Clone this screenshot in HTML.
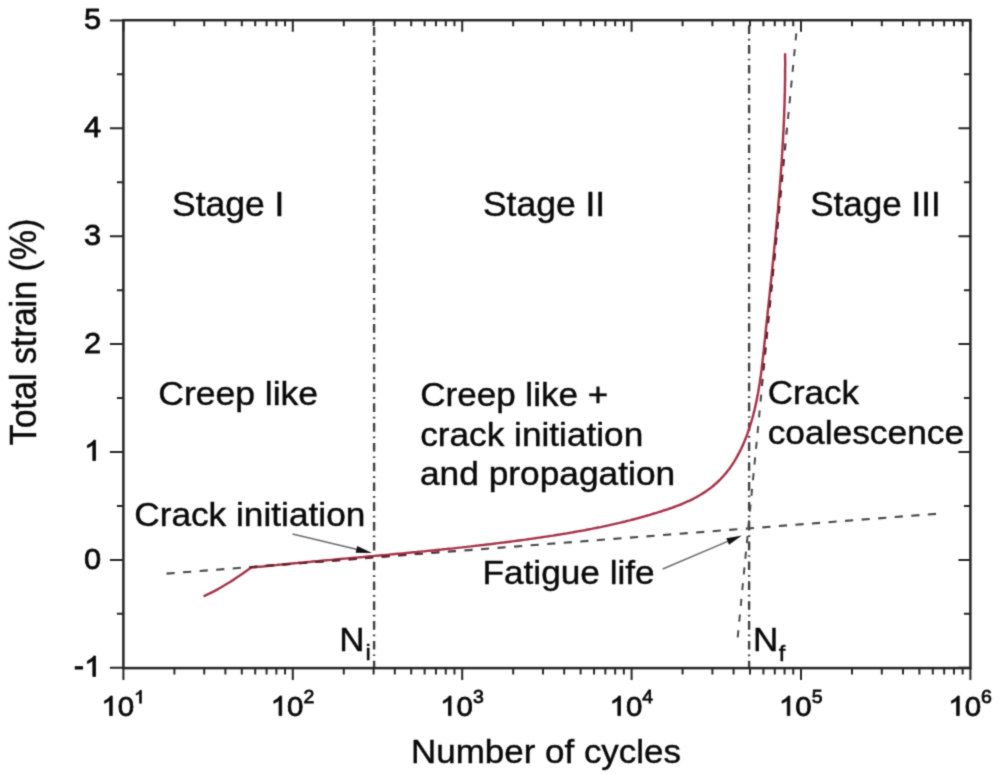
<!DOCTYPE html>
<html><head><meta charset="utf-8"><style>
html,body{margin:0;padding:0;background:#fff;}
svg{display:block;}
text{font-family:"Liberation Sans",sans-serif;fill:#0a0a0a;stroke:#0a0a0a;stroke-width:0.45px;}
text.tk{stroke-width:0.8px;}
</style></head><body>
<svg width="1000" height="775" viewBox="0 0 1000 775">
<defs><path id="one" d="M763 0H583V1100Q518 1040 412 980Q306 920 222 888V1058Q373 1128 486 1228Q599 1328 646 1409H763Z" fill="#0a0a0a" stroke="#0a0a0a" stroke-width="0.8" vector-effect="non-scaling-stroke"/>
<filter id="bl" x="0" y="0" width="1000" height="775" filterUnits="userSpaceOnUse" color-interpolation-filters="sRGB"><feConvolveMatrix order="3" kernelMatrix="0.02768 0.11101 0.02768 0.11101 0.44521 0.11101 0.02768 0.11101 0.02768" edgeMode="duplicate" preserveAlpha="false"/></filter></defs>
<rect width="1000" height="775" fill="#fff"/>
<g filter="url(#bl)">
<line x1="374.1" y1="668.10" x2="374.1" y2="21.20" stroke="#3f3f3f" stroke-width="2.4" stroke-dasharray="8.6 4.6 1.7 4.9" stroke-dashoffset="1.2"/>
<line x1="749.1" y1="668.10" x2="749.1" y2="21.20" stroke="#3f3f3f" stroke-width="2.4" stroke-dasharray="8.63 4.61 1.71 4.91" stroke-dashoffset="1.3"/>
<path id="rc" d="M204.5 595.9 L208.7 593.9 L212.9 591.8 L217.1 589.6 L221.2 587.2 L225.4 584.8 L229.6 582.3 L233.8 579.6 L237.9 576.8 L242.1 574.0 L246.3 571.0 L250.5 567.9 L251.0 567.7 L253.3 567.4 L255.6 567.2 L257.8 566.9 L260.1 566.7 L262.4 566.5 L264.7 566.2 L267.0 566.0 L269.3 565.8 L271.6 565.5 L273.8 565.3 L276.1 565.1 L278.4 564.8 L280.7 564.6 L283.0 564.4 L285.3 564.2 L287.6 563.9 L289.9 563.7 L292.2 563.5 L294.4 563.3 L296.7 563.1 L299.0 562.8 L301.3 562.6 L303.6 562.4 L305.9 562.2 L308.2 562.0 L310.5 561.8 L312.8 561.5 L315.1 561.3 L317.4 561.1 L319.7 560.9 L321.9 560.7 L324.2 560.5 L326.5 560.3 L328.8 560.1 L331.1 559.9 L333.4 559.7 L335.7 559.4 L338.0 559.2 L340.3 559.0 L342.6 558.8 L344.9 558.6 L347.2 558.4 L349.5 558.2 L351.8 558.0 L354.1 557.8 L356.4 557.6 L358.6 557.4 L360.9 557.2 L363.2 557.0 L365.5 556.7 L367.8 556.5 L370.1 556.3 L372.4 556.1 L374.7 555.9 L377.0 555.7 L379.3 555.5 L381.6 555.3 L383.9 555.1 L386.2 554.9 L388.5 554.7 L390.8 554.4 L393.1 554.2 L395.4 554.0 L397.7 553.8 L399.9 553.6 L402.2 553.4 L404.5 553.2 L406.8 552.9 L409.1 552.7 L411.4 552.5 L413.7 552.3 L416.0 552.1 L418.3 551.8 L420.6 551.6 L422.9 551.4 L425.2 551.2 L427.5 550.9 L429.8 550.7 L432.0 550.5 L434.3 550.3 L436.6 550.0 L438.9 549.8 L441.2 549.6 L443.5 549.3 L445.8 549.1 L448.1 548.8 L450.4 548.6 L452.7 548.4 L455.0 548.1 L457.2 547.9 L459.5 547.6 L461.8 547.4 L464.1 547.1 L466.4 546.9 L468.7 546.6 L471.0 546.4 L473.3 546.1 L475.5 545.8 L477.8 545.6 L480.1 545.3 L482.4 545.1 L484.7 544.8 L487.0 544.5 L489.3 544.2 L491.5 544.0 L493.8 543.7 L496.1 543.4 L498.4 543.1 L500.7 542.8 L503.0 542.6 L505.2 542.3 L507.5 542.0 L509.8 541.7 L512.1 541.4 L514.4 541.1 L516.6 540.8 L518.9 540.5 L521.2 540.2 L523.5 539.9 L525.7 539.6 L528.0 539.2 L530.3 538.9 L532.6 538.6 L534.8 538.3 L537.1 537.9 L539.4 537.6 L541.7 537.3 L543.9 536.9 L546.2 536.6 L548.5 536.3 L550.7 535.9 L553.0 535.6 L555.3 535.2 L557.6 534.8 L559.8 534.5 L562.1 534.1 L564.4 533.7 L566.6 533.4 L568.9 533.0 L571.1 532.6 L573.4 532.2 L575.7 531.8 L577.9 531.4 L580.2 531.0 L582.5 530.6 L584.7 530.2 L587.0 529.7 L589.2 529.3 L591.5 528.9 L593.7 528.4 L596.0 528.0 L598.2 527.5 L600.5 527.1 L602.8 526.6 L605.0 526.1 L607.3 525.6 L609.5 525.1 L611.7 524.6 L614.0 524.1 L616.2 523.6 L618.5 523.1 L620.7 522.6 L623.0 522.0 L625.2 521.5 L627.4 520.9 L629.7 520.4 L631.9 519.8 L634.2 519.2 L636.4 518.6 L638.6 518.0 L640.9 517.4 L643.1 516.8 L645.3 516.1 L647.5 515.5 L649.8 514.9 L652.0 514.2 L654.2 513.5 L656.4 512.9 L658.7 512.2 L660.9 511.5 L663.1 510.7 L665.3 510.0 L667.5 509.3 L669.7 508.5 L671.9 507.8 L674.1 507.0 L676.3 506.2 L678.5 505.3 L680.6 504.5 L682.8 503.6 L684.9 502.7 L687.0 501.7 L689.1 500.8 L691.2 499.8 L693.3 498.8 L695.3 497.7 L697.3 496.6 L699.3 495.5 L701.3 494.3 L703.2 493.1 L705.1 491.9 L707.0 490.6 L708.8 489.2 L710.7 487.9 L712.5 486.5 L714.2 485.0 L715.9 483.5 L717.6 482.0 L719.2 480.5 L720.8 478.9 L722.4 477.2 L723.9 475.5 L725.4 473.8 L726.8 472.1 L728.2 470.3 L729.6 468.5 L730.9 466.6 L732.2 464.7 L733.4 462.8 L734.6 460.9 L735.8 458.9 L736.9 456.9 L738.0 454.9 L739.1 452.9 L740.1 450.8 L741.2 448.8 L742.1 446.7 L743.1 444.6 L744.0 442.4 L744.9 440.3 L745.7 438.2 L746.6 436.0 L747.4 433.8 L748.1 431.7 L748.9 429.5 L749.6 427.3 L750.3 425.1 L751.0 422.9 L751.6 420.7 L752.3 418.5 L752.9 416.3 L753.5 414.1 L754.0 411.8 L754.6 409.6 L755.1 407.4 L755.6 405.1 L756.1 402.9 L756.6 400.6 L757.0 398.4 L757.4 396.1 L757.9 393.9 L758.3 391.6 L758.7 389.3 L759.0 387.1 L759.4 384.8 L759.8 382.5 L760.1 380.2 L760.4 378.0 L760.8 375.7 L761.1 373.4 L761.4 371.1 L761.7 368.8 L761.9 366.5 L762.2 364.2 L762.5 361.9 L762.7 359.6 L763.0 357.3 L763.3 355.0 L763.5 352.7 L763.8 350.4 L764.0 348.1 L764.2 345.8 L764.5 343.5 L764.7 341.2 L765.0 338.9 L765.2 336.6 L765.4 334.3 L765.7 332.0 L765.9 329.7 L766.1 327.4 L766.4 325.1 L766.6 322.8 L766.9 320.5 L767.1 318.2 L767.4 315.9 L767.6 313.6 L767.8 311.4 L768.1 309.1 L768.3 306.8 L768.6 304.5 L768.8 302.2 L769.0 299.9 L769.3 297.6 L769.5 295.3 L769.8 293.0 L770.0 290.7 L770.2 288.4 L770.5 286.1 L770.7 283.9 L771.0 281.6 L771.2 279.3 L771.4 277.0 L771.7 274.7 L771.9 272.4 L772.1 270.1 L772.4 267.8 L772.6 265.5 L772.8 263.3 L773.1 261.0 L773.3 258.7 L773.5 256.4 L773.8 254.1 L774.0 251.8 L774.2 249.5 L774.4 247.2 L774.7 245.0 L774.9 242.7 L775.1 240.4 L775.3 238.1 L775.5 235.8 L775.8 233.5 L776.0 231.2 L776.2 229.0 L776.4 226.7 L776.6 224.4 L776.8 222.1 L777.0 219.8 L777.2 217.5 L777.4 215.2 L777.7 212.9 L777.9 210.7 L778.1 208.4 L778.2 206.1 L778.4 203.8 L778.6 201.5 L778.8 199.2 L779.0 196.9 L779.2 194.6 L779.4 192.4 L779.6 190.1 L779.8 187.8 L779.9 185.5 L780.1 183.2 L780.3 180.9 L780.5 178.6 L780.6 176.3 L780.8 174.0 L781.0 171.8 L781.1 169.5 L781.3 167.2 L781.4 164.9 L781.6 162.6 L781.8 160.3 L781.9 158.0 L782.0 155.7 L782.2 153.4 L782.3 151.1 L782.5 148.8 L782.6 146.5 L782.7 144.2 L782.9 141.9 L783.0 139.6 L783.1 137.4 L783.2 135.1 L783.3 132.8 L783.5 130.5 L783.6 128.2 L783.7 125.9 L783.8 123.6 L783.9 121.3 L784.0 119.0 L784.1 116.7 L784.2 114.4 L784.2 112.1 L784.3 109.8 L784.4 107.4 L784.5 105.1 L784.6 102.8 L784.6 100.5 L784.7 98.2 L784.7 95.9 L784.8 93.6 L784.9 91.3 L784.9 89.0 L784.9 86.7 L785.0 84.4 L785.0 82.1 L785.1 79.7 L785.1 77.4 L785.1 75.1 L785.1 72.8 L785.1 70.5 L785.1 68.2 L785.2 65.9 L785.2 63.5 L785.2 61.2 L785.1 58.9 L785.1 56.6 L785.1 54.3" fill="none" stroke="#a5334a" stroke-width="2.45" stroke-linejoin="round" stroke-linecap="round"/>
<mask id="rm" maskUnits="userSpaceOnUse" x="0" y="0" width="1000" height="775"><path d="M204.5 595.9 L208.7 593.9 L212.9 591.8 L217.1 589.6 L221.2 587.2 L225.4 584.8 L229.6 582.3 L233.8 579.6 L237.9 576.8 L242.1 574.0 L246.3 571.0 L250.5 567.9 L251.0 567.7 L253.3 567.4 L255.6 567.2 L257.8 566.9 L260.1 566.7 L262.4 566.5 L264.7 566.2 L267.0 566.0 L269.3 565.8 L271.6 565.5 L273.8 565.3 L276.1 565.1 L278.4 564.8 L280.7 564.6 L283.0 564.4 L285.3 564.2 L287.6 563.9 L289.9 563.7 L292.2 563.5 L294.4 563.3 L296.7 563.1 L299.0 562.8 L301.3 562.6 L303.6 562.4 L305.9 562.2 L308.2 562.0 L310.5 561.8 L312.8 561.5 L315.1 561.3 L317.4 561.1 L319.7 560.9 L321.9 560.7 L324.2 560.5 L326.5 560.3 L328.8 560.1 L331.1 559.9 L333.4 559.7 L335.7 559.4 L338.0 559.2 L340.3 559.0 L342.6 558.8 L344.9 558.6 L347.2 558.4 L349.5 558.2 L351.8 558.0 L354.1 557.8 L356.4 557.6 L358.6 557.4 L360.9 557.2 L363.2 557.0 L365.5 556.7 L367.8 556.5 L370.1 556.3 L372.4 556.1 L374.7 555.9 L377.0 555.7 L379.3 555.5 L381.6 555.3 L383.9 555.1 L386.2 554.9 L388.5 554.7 L390.8 554.4 L393.1 554.2 L395.4 554.0 L397.7 553.8 L399.9 553.6 L402.2 553.4 L404.5 553.2 L406.8 552.9 L409.1 552.7 L411.4 552.5 L413.7 552.3 L416.0 552.1 L418.3 551.8 L420.6 551.6 L422.9 551.4 L425.2 551.2 L427.5 550.9 L429.8 550.7 L432.0 550.5 L434.3 550.3 L436.6 550.0 L438.9 549.8 L441.2 549.6 L443.5 549.3 L445.8 549.1 L448.1 548.8 L450.4 548.6 L452.7 548.4 L455.0 548.1 L457.2 547.9 L459.5 547.6 L461.8 547.4 L464.1 547.1 L466.4 546.9 L468.7 546.6 L471.0 546.4 L473.3 546.1 L475.5 545.8 L477.8 545.6 L480.1 545.3 L482.4 545.1 L484.7 544.8 L487.0 544.5 L489.3 544.2 L491.5 544.0 L493.8 543.7 L496.1 543.4 L498.4 543.1 L500.7 542.8 L503.0 542.6 L505.2 542.3 L507.5 542.0 L509.8 541.7 L512.1 541.4 L514.4 541.1 L516.6 540.8 L518.9 540.5 L521.2 540.2 L523.5 539.9 L525.7 539.6 L528.0 539.2 L530.3 538.9 L532.6 538.6 L534.8 538.3 L537.1 537.9 L539.4 537.6 L541.7 537.3 L543.9 536.9 L546.2 536.6 L548.5 536.3 L550.7 535.9 L553.0 535.6 L555.3 535.2 L557.6 534.8 L559.8 534.5 L562.1 534.1 L564.4 533.7 L566.6 533.4 L568.9 533.0 L571.1 532.6 L573.4 532.2 L575.7 531.8 L577.9 531.4 L580.2 531.0 L582.5 530.6 L584.7 530.2 L587.0 529.7 L589.2 529.3 L591.5 528.9 L593.7 528.4 L596.0 528.0 L598.2 527.5 L600.5 527.1 L602.8 526.6 L605.0 526.1 L607.3 525.6 L609.5 525.1 L611.7 524.6 L614.0 524.1 L616.2 523.6 L618.5 523.1 L620.7 522.6 L623.0 522.0 L625.2 521.5 L627.4 520.9 L629.7 520.4 L631.9 519.8 L634.2 519.2 L636.4 518.6 L638.6 518.0 L640.9 517.4 L643.1 516.8 L645.3 516.1 L647.5 515.5 L649.8 514.9 L652.0 514.2 L654.2 513.5 L656.4 512.9 L658.7 512.2 L660.9 511.5 L663.1 510.7 L665.3 510.0 L667.5 509.3 L669.7 508.5 L671.9 507.8 L674.1 507.0 L676.3 506.2 L678.5 505.3 L680.6 504.5 L682.8 503.6 L684.9 502.7 L687.0 501.7 L689.1 500.8 L691.2 499.8 L693.3 498.8 L695.3 497.7 L697.3 496.6 L699.3 495.5 L701.3 494.3 L703.2 493.1 L705.1 491.9 L707.0 490.6 L708.8 489.2 L710.7 487.9 L712.5 486.5 L714.2 485.0 L715.9 483.5 L717.6 482.0 L719.2 480.5 L720.8 478.9 L722.4 477.2 L723.9 475.5 L725.4 473.8 L726.8 472.1 L728.2 470.3 L729.6 468.5 L730.9 466.6 L732.2 464.7 L733.4 462.8 L734.6 460.9 L735.8 458.9 L736.9 456.9 L738.0 454.9 L739.1 452.9 L740.1 450.8 L741.2 448.8 L742.1 446.7 L743.1 444.6 L744.0 442.4 L744.9 440.3 L745.7 438.2 L746.6 436.0 L747.4 433.8 L748.1 431.7 L748.9 429.5 L749.6 427.3 L750.3 425.1 L751.0 422.9 L751.6 420.7 L752.3 418.5 L752.9 416.3 L753.5 414.1 L754.0 411.8 L754.6 409.6 L755.1 407.4 L755.6 405.1 L756.1 402.9 L756.6 400.6 L757.0 398.4 L757.4 396.1 L757.9 393.9 L758.3 391.6 L758.7 389.3 L759.0 387.1 L759.4 384.8 L759.8 382.5 L760.1 380.2 L760.4 378.0 L760.8 375.7 L761.1 373.4 L761.4 371.1 L761.7 368.8 L761.9 366.5 L762.2 364.2 L762.5 361.9 L762.7 359.6 L763.0 357.3 L763.3 355.0 L763.5 352.7 L763.8 350.4 L764.0 348.1 L764.2 345.8 L764.5 343.5 L764.7 341.2 L765.0 338.9 L765.2 336.6 L765.4 334.3 L765.7 332.0 L765.9 329.7 L766.1 327.4 L766.4 325.1 L766.6 322.8 L766.9 320.5 L767.1 318.2 L767.4 315.9 L767.6 313.6 L767.8 311.4 L768.1 309.1 L768.3 306.8 L768.6 304.5 L768.8 302.2 L769.0 299.9 L769.3 297.6 L769.5 295.3 L769.8 293.0 L770.0 290.7 L770.2 288.4 L770.5 286.1 L770.7 283.9 L771.0 281.6 L771.2 279.3 L771.4 277.0 L771.7 274.7 L771.9 272.4 L772.1 270.1 L772.4 267.8 L772.6 265.5 L772.8 263.3 L773.1 261.0 L773.3 258.7 L773.5 256.4 L773.8 254.1 L774.0 251.8 L774.2 249.5 L774.4 247.2 L774.7 245.0 L774.9 242.7 L775.1 240.4 L775.3 238.1 L775.5 235.8 L775.8 233.5 L776.0 231.2 L776.2 229.0 L776.4 226.7 L776.6 224.4 L776.8 222.1 L777.0 219.8 L777.2 217.5 L777.4 215.2 L777.7 212.9 L777.9 210.7 L778.1 208.4 L778.2 206.1 L778.4 203.8 L778.6 201.5 L778.8 199.2 L779.0 196.9 L779.2 194.6 L779.4 192.4 L779.6 190.1 L779.8 187.8 L779.9 185.5 L780.1 183.2 L780.3 180.9 L780.5 178.6 L780.6 176.3 L780.8 174.0 L781.0 171.8 L781.1 169.5 L781.3 167.2 L781.4 164.9 L781.6 162.6 L781.8 160.3 L781.9 158.0 L782.0 155.7 L782.2 153.4 L782.3 151.1 L782.5 148.8 L782.6 146.5 L782.7 144.2 L782.9 141.9 L783.0 139.6 L783.1 137.4 L783.2 135.1 L783.3 132.8 L783.5 130.5 L783.6 128.2 L783.7 125.9 L783.8 123.6 L783.9 121.3 L784.0 119.0 L784.1 116.7 L784.2 114.4 L784.2 112.1 L784.3 109.8 L784.4 107.4 L784.5 105.1 L784.6 102.8 L784.6 100.5 L784.7 98.2 L784.7 95.9 L784.8 93.6 L784.9 91.3 L784.9 89.0 L784.9 86.7 L785.0 84.4 L785.0 82.1 L785.1 79.7 L785.1 77.4 L785.1 75.1 L785.1 72.8 L785.1 70.5 L785.1 68.2 L785.2 65.9 L785.2 63.5 L785.2 61.2 L785.1 58.9 L785.1 56.6 L785.1 54.3" fill="none" stroke="#fff" stroke-width="5" stroke-linejoin="round" stroke-linecap="round"/></mask>
<line x1="166.5" y1="573.6" x2="936.6" y2="513.8" stroke-width="2.1" stroke-dasharray="8.2 8.4" stroke="#474747"/>
<line x1="737.7" y1="637.3" x2="796.3" y2="33.2" stroke-width="2" stroke-dasharray="7.1 8.68" stroke="#4a4a4a"/>
<g mask="url(#rm)"><line x1="166.5" y1="573.6" x2="936.6" y2="513.8" stroke-width="2.1" stroke-dasharray="8.2 8.4" stroke="#6e1c2a"/><line x1="737.7" y1="637.3" x2="796.3" y2="33.2" stroke-width="2" stroke-dasharray="7.1 8.68" stroke="#6e1c2a"/></g>
<line x1="292.5" y1="534.1" x2="358.38" y2="549.76" stroke="#6a6a6a" stroke-width="1.5"/><path d="M372.00 553.00L355.62 552.70L357.24 545.89Z" fill="#111"/>
<line x1="662.7" y1="569" x2="729.47" y2="540.67" stroke="#6a6a6a" stroke-width="1.5"/><path d="M741.90 535.40L729.00 544.68L726.26 538.23Z" fill="#111"/>
<rect x="123.40" y="20.20" width="847.00" height="647.90" fill="none" stroke="#262626" stroke-width="2.5"/>
<path d="M123.40 668.10V679.90M123.40 20.20V31.70M174.39 668.10V674.40M174.39 20.20V26.20M204.22 668.10V674.40M204.22 20.20V26.20M225.39 668.10V674.40M225.39 20.20V26.20M241.81 668.10V674.40M241.81 20.20V26.20M255.22 668.10V674.40M255.22 20.20V26.20M266.56 668.10V674.40M266.56 20.20V26.20M276.38 668.10V674.40M276.38 20.20V26.20M285.05 668.10V674.40M285.05 20.20V26.20M292.80 668.10V679.90M292.80 20.20V31.70M343.79 668.10V674.40M343.79 20.20V26.20M373.62 668.10V674.40M373.62 20.20V26.20M394.79 668.10V674.40M394.79 20.20V26.20M411.21 668.10V674.40M411.21 20.20V26.20M424.62 668.10V674.40M424.62 20.20V26.20M435.96 668.10V674.40M435.96 20.20V26.20M445.78 668.10V674.40M445.78 20.20V26.20M454.45 668.10V674.40M454.45 20.20V26.20M462.20 668.10V679.90M462.20 20.20V31.70M513.19 668.10V674.40M513.19 20.20V26.20M543.02 668.10V674.40M543.02 20.20V26.20M564.19 668.10V674.40M564.19 20.20V26.20M580.61 668.10V674.40M580.61 20.20V26.20M594.02 668.10V674.40M594.02 20.20V26.20M605.36 668.10V674.40M605.36 20.20V26.20M615.18 668.10V674.40M615.18 20.20V26.20M623.85 668.10V674.40M623.85 20.20V26.20M631.60 668.10V679.90M631.60 20.20V31.70M682.59 668.10V674.40M682.59 20.20V26.20M712.42 668.10V674.40M712.42 20.20V26.20M733.59 668.10V674.40M733.59 20.20V26.20M750.01 668.10V674.40M750.01 20.20V26.20M763.42 668.10V674.40M763.42 20.20V26.20M774.76 668.10V674.40M774.76 20.20V26.20M784.58 668.10V674.40M784.58 20.20V26.20M793.25 668.10V674.40M793.25 20.20V26.20M801.00 668.10V679.90M801.00 20.20V31.70M851.99 668.10V674.40M851.99 20.20V26.20M881.82 668.10V674.40M881.82 20.20V26.20M902.99 668.10V674.40M902.99 20.20V26.20M919.41 668.10V674.40M919.41 20.20V26.20M932.82 668.10V674.40M932.82 20.20V26.20M944.16 668.10V674.40M944.16 20.20V26.20M953.98 668.10V674.40M953.98 20.20V26.20M962.65 668.10V674.40M962.65 20.20V26.20M970.40 668.10V679.90M970.40 20.20V31.70M123.40 667.80H109.90M970.40 667.80H958.40M123.40 613.85H116.90M970.40 613.85H963.90M123.40 559.90H109.90M970.40 559.90H958.40M123.40 505.95H116.90M970.40 505.95H963.90M123.40 452.00H109.90M970.40 452.00H958.40M123.40 398.05H116.90M970.40 398.05H963.90M123.40 344.10H109.90M970.40 344.10H958.40M123.40 290.15H116.90M970.40 290.15H963.90M123.40 236.20H109.90M970.40 236.20H958.40M123.40 182.25H116.90M970.40 182.25H963.90M123.40 128.30H109.90M970.40 128.30H958.40M123.40 74.35H116.90M970.40 74.35H963.90M123.40 20.40H109.90M970.40 20.40H958.40" stroke="#262626" stroke-width="2" fill="none"/>
<text class="tk" x="0" y="0" font-size="30.8" transform="translate(73.81 676.40) scale(1 0.965)">-</text><use href="#one" transform="translate(84.07 676.40) scale(0.01504 -0.01451)"/>
<text class="tk" x="0" y="0" font-size="30.8" transform="translate(84.07 568.50) scale(1 0.965)">0</text>
<use href="#one" transform="translate(84.07 460.60) scale(0.01504 -0.01451)"/>
<text class="tk" x="0" y="0" font-size="30.8" transform="translate(84.07 352.70) scale(1 0.965)">2</text>
<text class="tk" x="0" y="0" font-size="30.8" transform="translate(84.07 244.80) scale(1 0.965)">3</text>
<text class="tk" x="0" y="0" font-size="30.8" transform="translate(84.07 136.90) scale(1 0.965)">4</text>
<text class="tk" x="0" y="0" font-size="30.8" transform="translate(84.07 29.00) scale(1 0.965)">5</text>
<use href="#one" transform="translate(101.27 715.60) scale(0.01440 -0.01390)"/><text class="tk" x="0" y="0" font-size="29.5" transform="translate(117.68 715.60) scale(1 0.965)">0</text>
<use href="#one" transform="translate(134.08 703.20) scale(0.00952 -0.00919)"/>
<use href="#one" transform="translate(270.67 715.60) scale(0.01440 -0.01390)"/><text class="tk" x="0" y="0" font-size="29.5" transform="translate(287.08 715.60) scale(1 0.965)">0</text>
<text class="tk" x="0" y="0" font-size="19.5" transform="translate(303.48 703.20) scale(1 0.965)">2</text>
<use href="#one" transform="translate(440.07 715.60) scale(0.01440 -0.01390)"/><text class="tk" x="0" y="0" font-size="29.5" transform="translate(456.48 715.60) scale(1 0.965)">0</text>
<text class="tk" x="0" y="0" font-size="19.5" transform="translate(472.88 703.20) scale(1 0.965)">3</text>
<use href="#one" transform="translate(609.47 715.60) scale(0.01440 -0.01390)"/><text class="tk" x="0" y="0" font-size="29.5" transform="translate(625.88 715.60) scale(1 0.965)">0</text>
<text class="tk" x="0" y="0" font-size="19.5" transform="translate(642.28 703.20) scale(1 0.965)">4</text>
<use href="#one" transform="translate(778.87 715.60) scale(0.01440 -0.01390)"/><text class="tk" x="0" y="0" font-size="29.5" transform="translate(795.28 715.60) scale(1 0.965)">0</text>
<text class="tk" x="0" y="0" font-size="19.5" transform="translate(811.68 703.20) scale(1 0.965)">5</text>
<use href="#one" transform="translate(948.27 715.60) scale(0.01440 -0.01390)"/><text class="tk" x="0" y="0" font-size="29.5" transform="translate(964.68 715.60) scale(1 0.965)">0</text>
<text class="tk" x="0" y="0" font-size="19.5" transform="translate(981.08 703.20) scale(1 0.965)">6</text>
<text x="0" y="0" font-size="35.5" text-anchor="start" transform="translate(172.00 215.90) scale(1.0 0.965)">Stage I</text>
<text x="0" y="0" font-size="35.5" text-anchor="start" transform="translate(482.90 215.90) scale(1.0 0.965)">Stage II</text>
<text x="0" y="0" font-size="35.5" text-anchor="start" transform="translate(810.20 216.20) scale(0.987 0.965)">Stage III</text>
<text x="0" y="0" font-size="35.5" text-anchor="start" transform="translate(158.30 405.40) scale(1.0 0.945)">Creep like</text>
<text x="0" y="0" font-size="35.5" text-anchor="start" transform="translate(420.20 406.20) scale(0.987 0.945)">Creep like +</text>
<text x="0" y="0" font-size="35.5" text-anchor="start" transform="translate(420.20 445.90) scale(0.992 0.945)">crack initiation</text>
<text x="0" y="0" font-size="35.5" text-anchor="start" transform="translate(419.90 485.40) scale(0.995 0.945)">and propagation</text>
<text x="0" y="0" font-size="35.5" text-anchor="start" transform="translate(767.70 403.50) scale(0.986 0.945)">Crack</text>
<text x="0" y="0" font-size="35.5" text-anchor="start" transform="translate(767.70 443.70) scale(0.996 0.945)">coalescence</text>
<text x="0" y="0" font-size="35.5" text-anchor="start" transform="translate(134.20 525.50) scale(0.993 0.945)">Crack initiation</text>
<text x="0" y="0" font-size="35.5" text-anchor="start" transform="translate(482.50 584.20) scale(0.992 0.945)">Fatigue life</text>
<text x="0" y="0" font-size="35.5" text-anchor="start" transform="translate(411.00 763.00) scale(0.985 0.945)">Number of cycles</text>
<text x="0" y="0" font-size="34" text-anchor="middle" transform="translate(36.0 331.95) rotate(-90) scale(1 1.07)">Total strain (%)</text>
<text x="0" y="0" font-size="34" transform="translate(339.2 650.8) scale(1.03 0.965)">N<tspan font-size="23" dx="1.1" dy="9.8">i</tspan></text>
<text x="0" y="0" font-size="34" transform="translate(753.0 651.1) scale(1.03 0.965)">N<tspan font-size="23" dx="0.4" dy="9.8">f</tspan></text>
</g>
</svg>
</body></html>
